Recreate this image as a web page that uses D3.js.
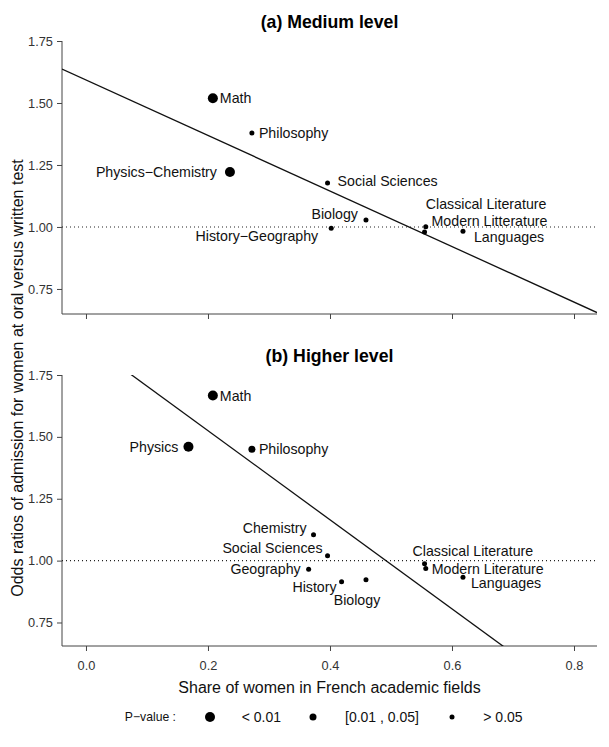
<!DOCTYPE html>
<html><head><meta charset="utf-8">
<script src="https://cdn.jsdelivr.net/npm/d3@7"></script>
<style>
body{margin:0;background:#fff;}
svg{font-family:"Liberation Sans",Arial,sans-serif;}
</style></head>
<body><svg id="chart" width="609" height="747"></svg>
<script>
// ---- data ----
const xTicks = [0.0, 0.2, 0.4, 0.6, 0.8];
const yTicks = [0.75, 1.00, 1.25, 1.50, 1.75];

const medFields = ["Math","Philosophy","Physics\u2212Chemistry","Social Sciences","Biology","History\u2212Geography","Classical Literature","Modern Litterature","Languages"];
const medShare  = [0.208, 0.272, 0.236, 0.396, 0.459, 0.402, 0.557, 0.555, 0.618];
const medOdds   = [1.519, 1.379, 1.222, 1.177, 1.028, 0.995, 1.001, 0.980, 0.983];
const medPval   = ["<0.01", ">0.05", "<0.01", ">0.05", ">0.05", ">0.05", ">0.05", ">0.05", ">0.05"];
const medFit    = [1.593, -1.12]; // intercept, slope

const highFields = ["Math","Physics","Philosophy","Chemistry","Social Sciences","Geography","History","Biology","Classical Literature","Modern Literature","Languages"];
const highShare  = [0.208, 0.168, 0.272, 0.373, 0.396, 0.365, 0.419, 0.459, 0.555, 0.557, 0.618];
const highOdds   = [1.667, 1.460, 1.450, 1.105, 1.020, 0.965, 0.915, 0.923, 0.987, 0.968, 0.933];
const highPval   = ["<0.01", "<0.01", "[0.01,0.05]", ">0.05", ">0.05", ">0.05", ">0.05", ">0.05", ">0.05", ">0.05", ">0.05"];
const highFit    = [1.885, -1.80];

const pvalCats   = ["<0.01", "[0.01,0.05]", ">0.05"];
const pvalLabels = ["< 0.01", "[0.01 , 0.05]", "> 0.05"];

// ---- layout (label placement relative to each point) ----
const medLabelPos = {
  "Math":[7,0,"start"], "Philosophy":[7,0,"start"], "Physics\u2212Chemistry":[-13,0,"end"],
  "Social Sciences":[10,-2,"start"], "Biology":[-8,-6,"end"], "History\u2212Geography":[-13,8,"end"],
  "Classical Literature":[0,-23,"start"], "Modern Litterature":[7,-11,"start"], "Languages":[11,6,"start"]
};
const highLabelPos = {
  "Math":[7,0,"start"], "Physics":[-10,0,"end"], "Philosophy":[7,0,"start"],
  "Chemistry":[-7,-7,"end"], "Social Sciences":[-5,-8,"end"], "Geography":[-8,0,"end"],
  "History":[-5,5,"end"], "Biology":[-9,20,"middle"],
  "Classical Literature":[-12,-13,"start"], "Modern Literature":[6,0,"start"], "Languages":[8,6,"start"]
};

const svg = d3.select("#chart");
const axisCol = "#444";
const rScale = d3.scaleOrdinal().domain(pvalCats).range([5, 3.5, 2.5]);

const x = d3.scaleLinear().domain([-0.0393, 0.8377]).range([62, 597]);

function panel(title, fields, share, odds, pval, fit, labelPos, yRange, yDomain, showXLabels, titleY){
  const y = d3.scaleLinear().domain(yDomain).range(yRange);
  const g = svg.append("g");
  const clipId = "clip" + Math.round(titleY);
  g.append("clipPath").attr("id", clipId).append("rect")
    .attr("x", x.range()[0]).attr("y", yRange[1]).attr("width", x.range()[1]-x.range()[0]).attr("height", yRange[0]-yRange[1]);

  g.append("text").attr("x", (x.range()[0]+x.range()[1])/2).attr("y", titleY)
    .attr("text-anchor","middle").attr("dominant-baseline","central")
    .style("font-weight","bold").style("font-size","17.7px").text(title);

  const yAxis = d3.axisLeft(y).tickValues(yTicks).tickFormat(d3.format(".2f")).tickSize(5).tickPadding(4);
  const ya = g.append("g").attr("transform",`translate(${x.range()[0]},0)`).call(yAxis);
  ya.select(".domain").remove();
  ya.selectAll("line").attr("stroke", axisCol);
  ya.selectAll("text").style("font-size","12.8px").attr("fill","#333").attr("font-family","Liberation Sans, Arial, sans-serif");
  g.append("line").attr("x1", x.range()[0]).attr("x2", x.range()[0]).attr("y1", y(yTicks[yTicks.length-1])).attr("y2", yRange[0]).attr("stroke", axisCol);

  const xAxis = d3.axisBottom(x).tickValues(xTicks).tickFormat(showXLabels ? d3.format(".1f") : "").tickSize(5).tickPadding(10);
  const xa = g.append("g").attr("transform",`translate(0,${yRange[0]})`).call(xAxis);
  xa.select(".domain").remove();
  xa.selectAll("line").attr("stroke", axisCol);
  xa.selectAll("text").style("font-size","12.8px").attr("fill","#333").attr("font-family","Liberation Sans, Arial, sans-serif");
  g.append("line").attr("x1", x.range()[0]).attr("x2", x.range()[1]).attr("y1", yRange[0]).attr("y2", yRange[0]).attr("stroke", axisCol);

  g.append("line").attr("x1", x.range()[0]).attr("x2", x.range()[1]).attr("y1", y(1)).attr("y2", y(1))
    .attr("stroke","#222").attr("stroke-dasharray","1,3").attr("stroke-width",1.1);

  const xd = x.domain();
  g.append("line").attr("clip-path",`url(#${clipId})`)
    .attr("x1", x(xd[0])).attr("y1", y(fit[0]+fit[1]*xd[0]))
    .attr("x2", x(xd[1])).attr("y2", y(fit[0]+fit[1]*xd[1]))
    .attr("stroke","#111").attr("stroke-width",1.3);

  const data = fields.map((f,i)=>({f, s:share[i], o:odds[i], p:pval[i]}));
  g.selectAll("circle.pt").data(data).join("circle").attr("class","pt")
    .attr("cx", d=>x(d.s)).attr("cy", d=>y(d.o)).attr("r", d=>rScale(d.p)).attr("fill","#000");
  g.selectAll("text.lab").data(data).join("text").attr("class","lab")
    .attr("x", d=>x(d.s)+labelPos[d.f][0]).attr("y", d=>y(d.o)+labelPos[d.f][1])
    .attr("text-anchor", d=>labelPos[d.f][2]).attr("dominant-baseline","central")
    .style("font-size","14.2px").attr("fill","#111").text(d=>d.f);
}

panel("(a) Medium level", medFields, medShare, medOdds, medPval, medFit, medLabelPos, [314, 41], [0.649, 1.75], false, 21.5);
panel("(b) Higher level", highFields, highShare, highOdds, highPval, highFit, highLabelPos, [646, 375], [0.655, 1.75], true, 356);

svg.append("text").attr("x", 329.5).attr("y", 687).attr("text-anchor","middle").attr("dominant-baseline","central")
  .style("font-size","16px").attr("fill","#111").text("Share of women in French academic fields");
svg.append("text").attr("transform","translate(17,378) rotate(-90)").attr("text-anchor","middle").attr("dominant-baseline","central")
  .style("font-size","16px").attr("fill","#111").text("Odds ratios of admission for women at oral versus written test");

const leg = svg.append("g");
leg.append("text").attr("x",176).attr("y",717).attr("text-anchor","end").attr("dominant-baseline","central")
  .style("font-size","12.2px").attr("fill","#111").text("P\u2212value :");
const legDotX = [210, 313, 452];
const legTextX = [241.7, 345, 483.3];
pvalCats.forEach((c,i)=>{
  leg.append("circle").attr("cx",legDotX[i]).attr("cy",717).attr("r",rScale(c)).attr("fill","#000");
  leg.append("text").attr("x",legTextX[i]).attr("y",717).attr("dominant-baseline","central")
    .style("font-size","14px").attr("fill","#111").text(pvalLabels[i]);
});
</script></body></html>
